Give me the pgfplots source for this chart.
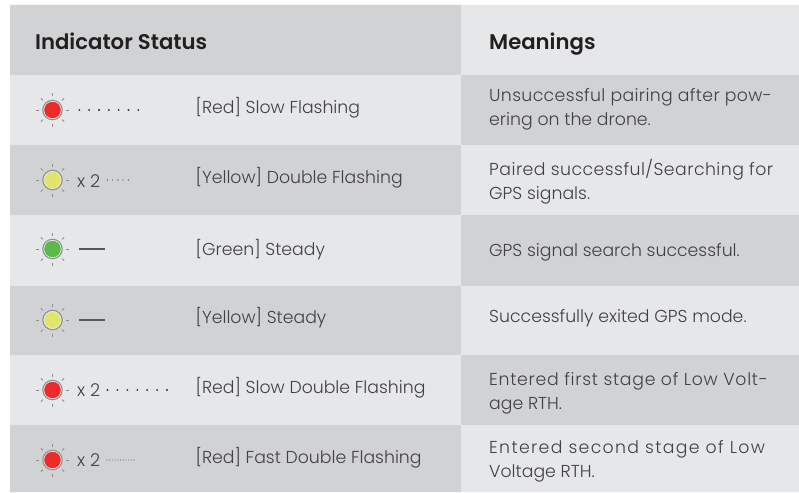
\documentclass[border=0pt]{standalone}
\usepackage{pgfplots}
\usepackage{fontspec}
\pgfplotsset{compat=1.18}
\setmainfont{Poppins}[UprightFont=* Light,BoldFont=* SemiBold]
\definecolor{bandD}{HTML}{D1D2D4}
\definecolor{bandL}{HTML}{E6E7E9}
\definecolor{txt}{HTML}{414042}
\definecolor{txtB}{HTML}{231F20}
\definecolor{ledR}{HTML}{EE2A2A}
\definecolor{ledY}{HTML}{E1E56B}
\definecolor{ledG}{HTML}{5AB947}
\definecolor{ringc}{HTML}{8E8F91}
\pgfdeclareplotmark{lampbase}{%
  \pgfsetlinewidth{0.8pt}\pgfsetstrokecolor{ringc}
  \foreach \a in {0,45,...,315}{%
    \pgfpathmoveto{\pgfqpointpolar{\a}{13.5pt}}%
    \pgfpathlineto{\pgfqpointpolar{\a}{16.5pt}}%
    \pgfusepathqstroke}%
  \pgfsetlinewidth{1.1pt}
  \pgfpathcircle{\pgfpointorigin}{9.7pt}\pgfusepathqfillstroke}
\newcommand\cell[3]{\node[anchor=base west,inner sep=0pt,text=#3] at (axis cs:#1,#2)}
\newcommand\band[5]{\addplot[fill=#5,draw=none,forget plot] coordinates {(#1,#3)(#2,#3)(#2,#4)(#1,#4)(#1,#3)};}
\newcommand\body{\fontsize{17.3}{20}\selectfont}
\newcommand\spaced[1]{\addfontfeature{LetterSpace=#1}}
\begin{document}
\begin{tikzpicture}
\begin{axis}[width=799pt,height=492pt,scale only axis,xmin=0,xmax=799,ymin=0,ymax=492,y dir=reverse,hide axis,clip=false]
\band{0}{799}{0}{492}{white}
\band{10}{461}{5}{75}{bandD}\band{461}{799}{5}{75}{bandL}
\band{10}{461}{75}{145}{bandL}\band{461}{799}{75}{145}{bandD}
\band{10}{461}{145}{215}{bandD}\band{461}{799}{145}{215}{bandL}
\band{10}{461}{215}{286}{bandL}\band{461}{799}{215}{286}{bandD}
\band{10}{461}{286}{355}{bandD}\band{461}{799}{286}{355}{bandL}
\band{10}{461}{355}{425}{bandL}\band{461}{799}{355}{425}{bandD}
\band{10}{461}{425}{492}{bandD}\band{461}{799}{425}{492}{bandL}
% lamps
\addplot[only marks,mark=lampbase,fill=bandL!60!white,forget plot] coordinates {(52.5,110)(52.5,180)(52.5,249)(52.5,320)(52.5,390)(52.5,460)};
\addplot[only marks,mark=*,mark size=8pt,color=ledR,fill=ledR,draw=none,forget plot] coordinates {(52.5,110)(52.5,390)(52.5,460)};
\addplot[only marks,mark=*,mark size=8pt,color=ledY,fill=ledY,draw=none,forget plot] coordinates {(52.5,180)(52.5,320)};
\addplot[only marks,mark=*,mark size=8pt,color=ledG,fill=ledG,draw=none,forget plot] coordinates {(52.5,249)};
% flash patterns
\addplot[only marks,mark=*,mark size=0.75pt,color=txt,forget plot] coordinates {(79.3,110)(89.1,110)(99,110)(108.8,110)(118.6,110)(128.5,110)(138.3,110)};
\addplot[only marks,mark=*,mark size=0.45pt,color=txt!70!bandD,forget plot] coordinates {(107.3,180)(112.5,180)(117.8,180)(123,180)(128.3,180)};
\addplot[only marks,mark=*,mark size=0.75pt,color=txt,forget plot] coordinates {(107.5,390)(117.4,390)(127.3,390)(137.3,390)(147.2,390)(157.1,390)(167,390)};
\addplot[only marks,mark=*,mark size=0.3pt,color=txt!50!bandD,forget plot] coordinates {(107,460)(109.7,460)(112.4,460)(115.1,460)(117.8,460)(120.5,460)(123.2,460)(125.9,460)(128.6,460)(131.3,460)(134,460)};
\addplot[color=txt!85!bandD,line width=1.2pt,forget plot] coordinates {(79,249)(105,249)};
\addplot[color=txt!85!bandD,line width=1.2pt,forget plot] coordinates {(79,320)(105,320)};
% header
\cell{35}{50}{txtB}{\fontsize{21.2}{24}\selectfont\bfseries Indicator Status};
\cell{489}{50}{txtB}{\fontsize{21.2}{24}\selectfont\bfseries Meanings};
% x 2
\cell{77}{187}{txt}{\fontsize{17.6}{20}\selectfont x 2};
\cell{77}{396}{txt}{\fontsize{17.6}{20}\selectfont x 2};
\cell{77}{466}{txt}{\fontsize{17.6}{20}\selectfont x 2};
% middle
\cell{195.5}{113.5}{txt}{\body [Red] Slow Flashing};
\cell{195.5}{183.5}{txt}{\body [Yellow] Double Flashing};
\cell{195.5}{255.5}{txt}{\body [Green] Steady};
\cell{195.5}{323.5}{txt}{\body [Yellow] Steady};
\cell{195.5}{393}{txt}{\body [Red] Slow Double Flashing};
\cell{195.5}{463}{txt}{\body [Red] Fast Double Flashing};
% right
\cell{489}{102}{txt}{\body\spaced{2.05} Unsuccessful pairing after pow-};
\cell{489}{125}{txt}{\body ering on the drone.};
\cell{489}{175}{txt}{\body\spaced{2.7} Paired successful/Searching for};
\cell{489}{199}{txt}{\body GPS signals.};
\cell{489}{256}{txt}{\body GPS signal search successful.};
\cell{489}{322.7}{txt}{\body Successfully exited GPS mode.};
\cell{489}{385}{txt}{\body\spaced{4.2} Entered first stage of Low Volt-};
\cell{489}{409}{txt}{\body age RTH.};
\cell{489}{453.3}{txt}{\body\spaced{7.7} Entered second stage of Low};
\cell{489}{477.3}{txt}{\body Voltage RTH.};
\end{axis}
\end{tikzpicture}
\end{document}
